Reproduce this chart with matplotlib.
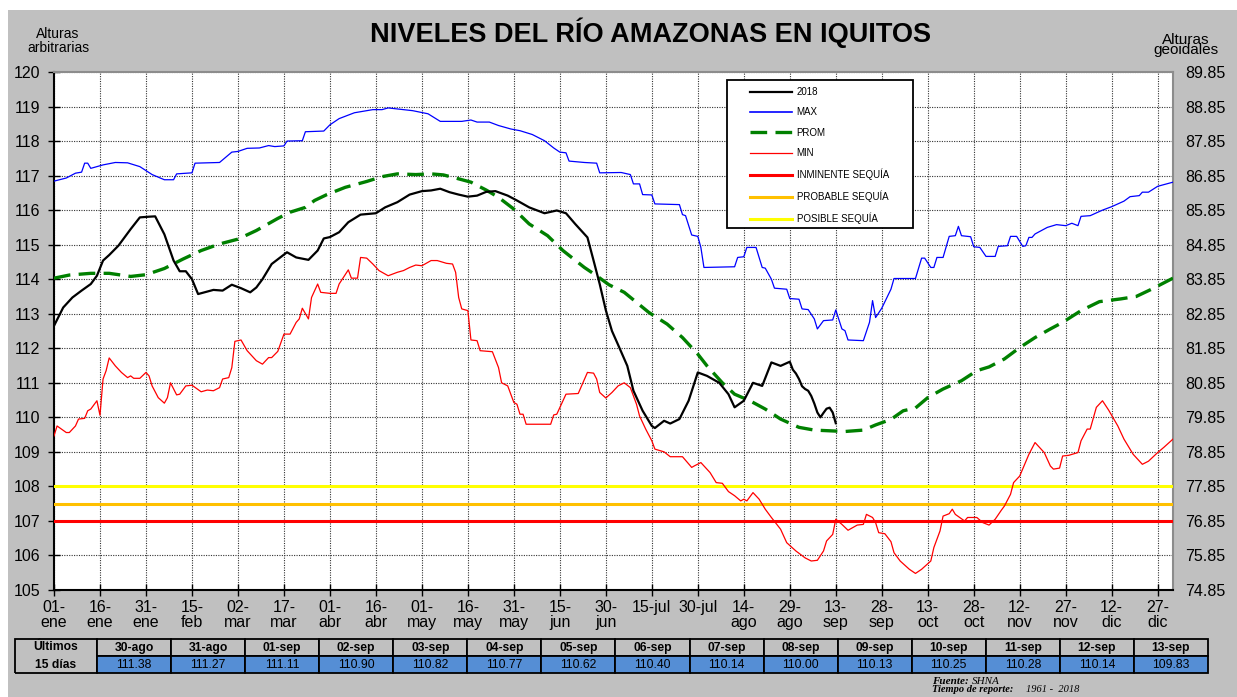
import matplotlib
matplotlib.use("Agg")
import matplotlib.pyplot as plt
import numpy as np
from matplotlib.lines import Line2D
from matplotlib.patches import Rectangle

plt.rcParams['font.family'] = ['Liberation Sans', 'DejaVu Sans']

# ---- datos ----
# eje x: día del año (0 = 01-ene)
etiquetas_x = ["01-\nene", "16-\nene", "31-\nene", "15-\nfeb", "02-\nmar", "17-\nmar",
               "01-\nabr", "16-\nabr", "01-\nmay", "16-\nmay", "31-\nmay", "15-\njun",
               "30-\njun", "15-jul\n", "30-jul\n", "14-\nago", "29-\nago", "13-\nsep",
               "28-\nsep", "13-\noct", "28-\noct", "12-\nnov", "27-\nnov", "12-\ndic",
               "27-\ndic"]

# últimos 15 días (tabla)
fechas_tabla = ["30-ago", "31-ago", "01-sep", "02-sep", "03-sep", "04-sep", "05-sep",
                "06-sep", "07-sep", "08-sep", "09-sep", "10-sep", "11-sep", "12-sep",
                "13-sep"]
valores_tabla = [111.38, 111.27, 111.11, 110.90, 110.82, 110.77, 110.62, 110.40,
                 110.14, 110.00, 110.13, 110.25, 110.28, 110.14, 109.83]
dias_tabla = list(range(241, 256))

dias_2018 = [0, 3, 6, 9, 12, 14, 16, 18, 21, 25, 28, 31, 33, 36, 39, 41, 43, 45, 47, 52,
             55, 58, 61, 64, 66, 68, 71, 76, 79, 83, 86, 88, 90, 93, 96, 100, 105, 108,
             112, 116, 120, 123, 126, 129, 132, 135, 138, 141, 144, 148, 151, 155, 160,
             164, 167, 170, 174, 176, 178, 180, 182, 184, 187, 189, 192, 195, 196, 199,
             201, 204, 207, 210, 213, 217, 220, 222, 225, 228, 231, 234, 237, 240]
nivel_2018 = [112.65, 113.18, 113.47, 113.67, 113.86, 114.10, 114.54, 114.70, 114.97,
              115.45, 115.79, 115.81, 115.82, 115.30, 114.54, 114.23, 114.23, 114.00,
              113.57, 113.69, 113.67, 113.84, 113.74, 113.62, 113.76, 114.00, 114.44,
              114.78, 114.63, 114.56, 114.83, 115.18, 115.22, 115.36, 115.65, 115.87,
              115.91, 116.08, 116.23, 116.45, 116.55, 116.57, 116.62, 116.52, 116.45,
              116.39, 116.42, 116.53, 116.55, 116.42, 116.28, 116.08, 115.91, 115.99,
              115.91, 115.60, 115.21, 114.54, 113.86, 113.10, 112.50, 112.10, 111.49,
              110.77, 110.19, 109.75, 109.69, 109.90, 109.82, 109.95, 110.48, 111.30,
              111.20, 111.00, 110.67, 110.29, 110.48, 111.00, 110.91, 111.59, 111.49,
              111.61]

dias_max = [0, 4, 7, 9, 10, 11, 12, 16, 20, 24, 28, 32, 36, 39, 40, 45, 46, 54, 56, 58,
            60, 63, 67, 70, 72, 75, 76, 81, 82, 88, 90, 93, 98, 104, 107, 109, 112, 117,
            122, 126, 133, 136, 138, 142, 145, 149, 152, 156, 160, 163, 165, 167, 168,
            173, 177, 178, 185, 188, 189, 191, 192, 195, 196, 204, 205, 206, 208, 210,
            211, 212, 222, 223, 225, 226, 229, 231, 232, 234, 235, 239, 240, 243, 244,
            246, 248, 249, 251, 254, 255, 257, 258, 259, 264, 266, 267, 268, 270, 273,
            274, 281, 283, 284, 286, 287, 288, 290, 291, 292, 294, 295, 296, 299, 300,
            302, 304, 307, 308, 311, 312, 314, 316, 317, 318, 319, 320, 324, 327, 330,
            332, 334, 335, 338, 342, 345, 349, 351, 354, 355, 357, 360, 365]
nivel_max = [116.84, 116.93, 117.07, 117.10, 117.36, 117.36, 117.21, 117.31, 117.38,
             117.37, 117.26, 117.03, 116.88, 116.88, 117.05, 117.08, 117.36, 117.38,
             117.53, 117.68, 117.70, 117.79, 117.80, 117.87, 117.84, 117.86, 118.00,
             118.01, 118.27, 118.29, 118.47, 118.65, 118.82, 118.91, 118.91, 118.96,
             118.93, 118.88, 118.79, 118.57, 118.57, 118.61, 118.55, 118.55, 118.45,
             118.35, 118.30, 118.19, 118.01, 117.80, 117.68, 117.66, 117.42, 117.38,
             117.36, 117.08, 117.09, 117.03, 116.76, 116.76, 116.45, 116.44, 116.18,
             116.16, 115.87, 115.84, 115.28, 115.24, 114.92, 114.34, 114.36, 114.63,
             114.65, 114.92, 114.92, 114.34, 114.32, 114.00, 113.74, 113.71, 113.44,
             113.42, 113.14, 113.12, 112.85, 112.56, 112.80, 112.82, 113.11, 112.56,
             112.51, 112.24, 112.22, 112.75, 113.38, 112.89, 113.16, 113.71, 114.02,
             114.02, 114.61, 114.61, 114.34, 114.34, 114.63, 114.63, 114.94, 115.24,
             115.26, 115.53, 115.26, 115.23, 114.94, 114.92, 114.66, 114.66, 114.95,
             114.97, 115.24, 115.24, 114.95, 114.97, 115.21, 115.21, 115.31, 115.50,
             115.58, 115.55, 115.62, 115.55, 115.82, 115.84, 116.00, 116.10, 116.26,
             116.39, 116.42, 116.52, 116.52, 116.69, 116.81]

dias_prom = [0, 5, 12, 18, 25, 30, 36, 42, 48, 54, 60, 66, 73, 77, 82, 85, 89, 95, 102,
             107, 112, 118, 123, 127, 131, 136, 141, 145, 150, 155, 161, 166, 173, 177,
             181, 186, 190, 194, 200, 205, 210, 213, 218, 222, 227, 232, 237, 243, 248,
             253, 258, 264, 268, 273, 277, 281, 285, 290, 296, 301, 305, 310, 315, 320,
             325, 329, 335, 341, 348, 353, 358, 365]
nivel_prom = [114.03, 114.12, 114.17, 114.17, 114.08, 114.13, 114.31, 114.58, 114.83,
              115.02, 115.16, 115.41, 115.76, 115.94, 116.08, 116.28, 116.45, 116.66,
              116.83, 116.97, 117.05, 117.03, 117.05, 117.02, 116.93, 116.81, 116.58,
              116.37, 116.03, 115.60, 115.26, 114.83, 114.34, 114.10, 113.84, 113.62,
              113.33, 113.04, 112.70, 112.31, 111.83, 111.49, 111.00, 110.67, 110.48,
              110.24, 109.95, 109.71, 109.63, 109.61, 109.59, 109.63, 109.78, 109.94,
              110.19, 110.27, 110.57, 110.82, 111.06, 111.35, 111.46, 111.69, 112.02,
              112.31, 112.56, 112.75, 113.09, 113.35, 113.43, 113.50, 113.71, 114.03]

dias_min = [0, 1, 4, 5, 7, 8, 10, 11, 12, 14, 15, 16, 17, 18, 20, 22, 24, 25, 26, 28, 30,
            31, 32, 34, 36, 37, 38, 40, 41, 43, 45, 48, 50, 52, 54, 55, 57, 58, 59, 61,
            63, 66, 68, 70, 71, 73, 75, 77, 79, 80, 81, 83, 84, 86, 87, 90, 92, 93, 96,
            97, 99, 100, 102, 104, 106, 109, 112, 114, 116, 118, 120, 123, 125, 128, 130,
            131, 132, 133, 135, 136, 138, 139, 143, 145, 146, 148, 150, 151, 152, 153,
            154, 162, 163, 164, 167, 171, 174, 176, 177, 178, 180, 182, 184, 186, 188,
            190, 191, 193, 195, 196, 199, 201, 205, 208, 209, 211, 214, 216, 218, 220,
            222, 224, 225, 226, 228, 230, 232, 234, 237, 239, 242, 245, 247, 249, 251,
            252, 254, 255, 257, 259, 262, 264, 265, 267, 268, 269, 271, 273, 274, 276,
            279, 281, 283, 286, 287, 289, 290, 292, 293, 294, 297, 298, 301, 303, 305,
            307, 309, 310, 312, 313, 315, 318, 320, 323, 325, 326, 328, 329, 331, 334,
            335, 337, 338, 340, 342, 344, 347, 349, 352, 355, 357, 360, 362, 365]
nivel_min = [109.46, 109.75, 109.56, 109.56, 109.75, 109.95, 109.97, 110.19, 110.24,
             110.48, 110.06, 111.11, 111.35, 111.72, 111.49, 111.30, 111.15, 111.20,
             111.13, 111.13, 111.30, 111.20, 110.91, 110.57, 110.41, 110.57, 111.00,
             110.65, 110.67, 110.91, 110.93, 110.74, 110.79, 110.77, 110.86, 111.11,
             111.15, 111.44, 112.20, 112.24, 111.93, 111.64, 111.54, 111.73, 111.73,
             111.91, 112.41, 112.41, 112.75, 112.85, 113.16, 112.85, 113.47, 113.86,
             113.62, 113.59, 113.59, 113.86, 114.27, 114.03, 114.03, 114.63, 114.61,
             114.44, 114.25, 114.10, 114.20, 114.25, 114.34, 114.41, 114.39, 114.54,
             114.54, 114.46, 114.44, 114.20, 113.47, 113.14, 113.09, 112.24, 112.22,
             111.93, 111.90, 111.44, 111.00, 110.91, 110.43, 110.38, 110.09, 110.09,
             109.80, 109.80, 110.07, 110.09, 110.67, 110.69, 111.30, 111.28, 111.11,
             110.72, 110.56, 110.72, 110.91, 111.00, 110.86, 110.38, 110.04, 109.66,
             109.32, 109.08, 109.00, 108.86, 108.86, 108.55, 108.60, 108.69, 108.40,
             108.11, 108.09, 107.85, 107.73, 107.58, 107.63, 107.58, 107.82, 107.63,
             107.34, 107.10, 106.76, 106.37, 106.13, 105.93, 105.84, 105.86, 106.13,
             106.42, 106.61, 107.05, 106.90, 106.73, 106.88, 106.90, 107.19, 107.10,
             106.95, 106.66, 106.63, 106.40, 106.08, 105.84, 105.60, 105.48, 105.60,
             105.84, 106.23, 106.71, 107.14, 107.21, 107.34, 107.19, 107.00, 107.10,
             107.10, 106.95, 106.88, 107.05, 107.31, 107.43, 107.77, 108.11, 108.30,
             108.93, 109.27, 108.98, 108.59, 108.50, 108.53, 108.88, 108.90, 108.98,
             109.32, 109.66, 109.66, 110.29, 110.48, 110.21, 109.75, 109.37, 108.93,
             108.64, 108.73, 108.98, 109.13, 109.37]

# umbrales de sequía
umbral_inminente = 107.0
umbral_probable = 107.5
umbral_posible = 108.0
offset_geoidal = 30.15   # 120 arbitrario = 89.85 geoidal

# ---- figura ----
W, H = 1237, 697
fig = plt.figure(figsize=(W / 100, H / 100), dpi=100)
fig.patch.set_facecolor("white")
fig.patches.append(Rectangle((8 / W, 0), 1 - 8 / W, 1 - 10 / H, transform=fig.transFigure,
                             facecolor="#c0c0c0", edgecolor="none", zorder=-10))

x0, x1, yt, yb = 54, 1173, 72, 590
ax = fig.add_axes([x0 / W, 1 - yb / H, (x1 - x0) / W, (yb - yt) / H])
ax.set_facecolor("white")

# pasar de pixeles de la figura a fracción de ejes
def px_ax(px, py):
    return (px - x0) / (x1 - x0), (yb - py) / (yb - yt)

guion = (0, (5, 2.5))
ax.plot(np.array(dias_2018 + dias_tabla), np.array(nivel_2018 + valores_tabla),
        color="black", lw=1.6, zorder=6)
ax.plot(dias_max, nivel_max, color="#0000ff", lw=0.9, zorder=5)
ax.plot(dias_prom, nivel_prom, color="#008000", lw=2.4, ls=guion, zorder=5)
ax.plot(dias_min, nivel_min, color="#ff0000", lw=0.9, zorder=5)
ax.axhline(umbral_inminente, color="#ff0000", lw=2.2, zorder=4)
ax.axhline(umbral_probable, color="#ffc000", lw=2.2, zorder=4)
ax.axhline(umbral_posible, color="#ffff00", lw=2.2, zorder=4)

ax.set_xlim(0, 365)
ax.set_ylim(105, 120)
ax.set_xticks(np.arange(0, 361, 15))
ax.set_xticklabels(etiquetas_x, fontsize=11.5, linespacing=1.05)
ax.set_yticks(np.arange(105, 121, 1))
ax.tick_params(axis="y", labelsize=11.5, direction="inout", length=8, width=1, pad=6)
ax.tick_params(axis="x", direction="inout", length=8, width=1, pad=3)
ax.grid(True, color="#333333", ls=(0, (1, 1.2)), lw=0.8)
ax.set_axisbelow(True)
for s in ["left", "bottom"]:
    ax.spines[s].set_color("black")
    ax.spines[s].set_linewidth(1.5)
for s in ["top", "right"]:
    ax.spines[s].set_color("#8c8c8c")
    ax.spines[s].set_linewidth(1.5)

ax2 = ax.twinx()
ax2.set_ylim(105 - offset_geoidal, 120 - offset_geoidal)
ax2.set_yticks(np.arange(105, 121, 1) - offset_geoidal)
ax2.set_yticklabels([f"{v:.2f}" for v in np.arange(105, 121, 1) - offset_geoidal])
ax2.tick_params(axis="y", labelsize=11.5, length=0, pad=9)
for s in ax2.spines.values():
    s.set_visible(False)

# leyenda (marco dibujado aparte para tener el mismo margen que el original)
lx0, ly0 = px_ax(727, 80)
lx1, ly1 = px_ax(913, 228)
ax2.add_patch(Rectangle((lx0, ly1), lx1 - lx0, ly0 - ly1, transform=ax.transAxes,
                        facecolor="white", edgecolor="black", lw=1.3, zorder=9))
handles = [Line2D([], [], color="black", lw=1.6),
           Line2D([], [], color="#0000ff", lw=1.2),
           Line2D([], [], color="#008000", lw=2.4, ls=guion),
           Line2D([], [], color="#ff0000", lw=0.9),
           Line2D([], [], color="#ff0000", lw=2.2),
           Line2D([], [], color="#ffc000", lw=2.2),
           Line2D([], [], color="#ffff00", lw=2.2)]
labels = ["2018", "MAX", "PROM", "MIN", "INMINENTE SEQUÍA", "PROBABLE SEQUÍA", "POSIBLE SEQUÍA"]
leg = ax2.legend(handles, labels, loc="upper left", bbox_to_anchor=px_ax(750, 87),
                 bbox_transform=ax.transAxes, borderaxespad=0, borderpad=0, fontsize=7,
                 handlelength=4.3, handletextpad=0.5, labelspacing=1.07, frameon=False)
leg.set_zorder(10)

# textos
fig.text(650 / W, 1 - 33 / H, "NIVELES DEL RÍO AMAZONAS EN IQUITOS", ha="center",
         va="center", fontsize=19.5, fontweight="bold")
fig.text(58 / W, 1 - 41 / H, "Alturas\narbitrarias", ha="center", va="center",
         fontsize=10, linespacing=1.05)
fig.text(1186 / W, 1 - 45 / H, "Alturas\ngeoidales", ha="center", va="center",
         fontsize=11, linespacing=0.7)

# tabla de los últimos 15 días
celdas = [["Últimos"] + fechas_tabla, ["15 días"] + [f"{v:.2f}" for v in valores_tabla]]
colores = [["#c0c0c0"] * 16, ["#c0c0c0"] + ["#558ed5"] * 15]
tx0, tx1, tyt, tyb = 15, 1208, 639, 673
ancho_1 = 82 / (tx1 - tx0)
bx, by = px_ax(tx0, tyb)
tabla = ax.table(cellText=celdas, cellColours=colores, cellLoc="center",
                 colWidths=[ancho_1] + [(1 - ancho_1) / 15] * 15,
                 bbox=[bx, by, (tx1 - tx0) / (x1 - x0), (tyb - tyt) / (yb - yt)])
tabla.auto_set_font_size(False)
for (r, c), cell in tabla.get_celld().items():
    cell.set_edgecolor("black")
    cell.set_linewidth(1.3)
    cell.get_text().set_fontsize(8.7)
    if r == 0 or c == 0:
        cell.get_text().set_fontweight("bold")
    if c == 0:
        cell.visible_edges = "TLR" if r == 0 else "BLR"

fig.text(932 / W, 1 - 681 / H, "Fuente:", family="Liberation Serif", style="italic",
         fontweight="bold", fontsize=8, va="center")
fig.text(972 / W, 1 - 681 / H, "SHNA", family="Liberation Serif", style="italic",
         fontsize=8, va="center")
fig.text(932 / W, 1 - 690 / H, "Tiempo de reporte:", family="Liberation Serif",
         style="italic", fontweight="bold", fontsize=7.5, va="center")
fig.text(1026 / W, 1 - 690 / H, "1961 -  2018", family="Liberation Serif",
         style="italic", fontsize=7.5, va="center")

fig.savefig("out.png", dpi=100)
